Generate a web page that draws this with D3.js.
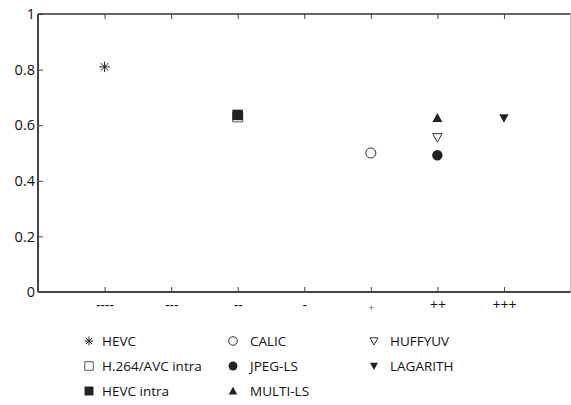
<!DOCTYPE html>
<html>
<head>
<meta charset="utf-8">
<script src="https://cdn.jsdelivr.net/npm/d3@7"></script>
<style>
  body { margin: 0; background: #fff; }
  text { font-family: "Open Sans", sans-serif; }
</style>
</head>
<body>
<svg width="571" height="405"></svg>
<script>
// categories on the x axis
const categories = ["----", "---", "--", "-", "+", "++", "+++"];
const yTicks = [0, 0.2, 0.4, 0.6, 0.8, 1];

// one point per method
const methods = ["HEVC", "H.264/AVC intra", "HEVC intra", "CALIC", "JPEG-LS", "MULTI-LS", "HUFFYUV", "LAGARITH"];
const methodCategory = ["----", "--", "--", "+", "++", "++", "++", "+++"];
const methodScore = [0.81, 0.63, 0.637, 0.5, 0.492, 0.626, 0.556, 0.626];
const methodMarker = ["asterisk", "squareOpen", "square", "circleOpen", "circle", "triangleUp", "triangleDownOpen", "triangleDown"];

// legend is laid out in columns of 3
const legendOrder = ["HEVC", "H.264/AVC intra", "HEVC intra", "CALIC", "JPEG-LS", "MULTI-LS", "HUFFYUV", "LAGARITH"];

const svg = d3.select("svg");
const plotL = 38, plotR = 570.5, plotT = 14, plotB = 292;

const x = d3.scaleLinear().domain([0, categories.length + 1]).range([plotL, plotR]);
const y = d3.scaleLinear().domain([0, 1]).range([plotB, plotT]);
const col = "#222";

// marker shapes
const shapes = {
    asterisk: {draw(c, s) { const r = Math.sqrt(s) / 2, d = r * 0.72;
        c.moveTo(-r, 0); c.lineTo(r, 0); c.moveTo(0, -r); c.lineTo(0, r);
        c.moveTo(-d, -d); c.lineTo(d, d); c.moveTo(-d, d); c.lineTo(d, -d); }},
    triUp: {draw(c, s) { const r = Math.sqrt(s) / 2;
        c.moveTo(0, -r); c.lineTo(r, r * 0.8); c.lineTo(-r, r * 0.8); c.closePath(); }},
    triDown: {draw(c, s) { const r = Math.sqrt(s) / 2;
        c.moveTo(0, r); c.lineTo(r, -r * 0.8); c.lineTo(-r, -r * 0.8); c.closePath(); }}
};

function marker(g, kind, k) {
    let type, size, fill = col, stroke = "none", sw = 1;
    if (kind == "asterisk") { type = shapes.asterisk; size = 110; fill = "none"; stroke = col; }
    else if (kind == "squareOpen") { type = d3.symbolSquare; size = 100; fill = "#fff"; stroke = "#555"; }
    else if (kind == "square") { type = d3.symbolSquare; size = 110; }
    else if (kind == "circleOpen") { type = d3.symbolCircle; size = 80; fill = "none"; stroke = "#333"; }
    else if (kind == "circle") { type = d3.symbolCircle; size = 85; }
    else if (kind == "triangleUp") { type = shapes.triUp; size = 100; }
    else if (kind == "triangleDownOpen") { type = shapes.triDown; size = 90; fill = "none"; stroke = "#333"; }
    else { type = shapes.triDown; size = 90; }
    g.append("path")
        .attr("d", d3.symbol().type(type).size(size * k * k)())
        .attr("fill", fill)
        .attr("stroke", stroke)
        .attr("stroke-width", sw);
}

// axes box
const xAxisB = d3.axisBottom(x).tickValues(d3.range(1, categories.length + 1))
    .tickSize(-5).tickFormat(i => categories[i - 1]).tickPadding(8);
const gx = svg.append("g").attr("transform", `translate(0,${plotB})`).call(xAxisB);
gx.select(".domain").remove();
gx.selectAll("line").attr("stroke", "#444");
gx.selectAll("text").attr("fill", "#111").style("font-size", "14px")
    .filter(d => categories[d - 1] == "+").style("font-size", "9px").attr("fill", "#555").attr("dy", "1.25em");

const gt = svg.append("g").attr("transform", `translate(0,${plotT})`)
    .call(d3.axisTop(x).tickValues(d3.range(1, categories.length + 1)).tickSize(-5).tickFormat(""));
gt.select(".domain").remove();
gt.selectAll("line").attr("stroke", "#444");

const gy = svg.append("g").attr("transform", `translate(${plotL},0)`)
    .call(d3.axisLeft(y).tickValues(yTicks).tickSize(-5).tickPadding(3).tickFormat(d3.format("~g")));
gy.select(".domain").remove();
gy.selectAll("line").attr("stroke", "#444");
gy.selectAll("text").attr("fill", "#111").style("font-size", "14.5px");

svg.append("line").attr("x1", plotL).attr("x2", plotR).attr("y1", plotT).attr("y2", plotT)
    .attr("stroke", "#333").attr("stroke-width", 1.3);
svg.append("line").attr("x1", plotR).attr("x2", plotR).attr("y1", plotT).attr("y2", plotB)
    .attr("stroke", "#bbb").attr("stroke-width", 1);
svg.append("line").attr("x1", plotL).attr("x2", plotR).attr("y1", plotB).attr("y2", plotB)
    .attr("stroke", "#444").attr("stroke-width", 1.8);
svg.append("line").attr("x1", plotL).attr("x2", plotL).attr("y1", plotT).attr("y2", plotB)
    .attr("stroke", "#444").attr("stroke-width", 2);

// points
methods.forEach((m, i) => {
    const g = svg.append("g")
        .attr("transform", `translate(${x(categories.indexOf(methodCategory[i]) + 1)},${y(methodScore[i])})`);
    marker(g, methodMarker[i], 1);
});

// legend
const legMarkX = [89, 233, 374], legTextX = [102, 250, 390], legY = [341, 366, 391];
legendOrder.forEach((m, j) => {
    const c = Math.floor(j / 3), r = j % 3;
    const g = svg.append("g").attr("transform", `translate(${legMarkX[c]},${legY[r]})`);
    marker(g, methodMarker[methods.indexOf(m)], 0.85);
    svg.append("text").attr("x", legTextX[c]).attr("y", legY[r]).attr("dy", "0.36em")
        .attr("fill", "#111").style("font-size", "13.5px").text(m);
});
</script>
</body>
</html>
